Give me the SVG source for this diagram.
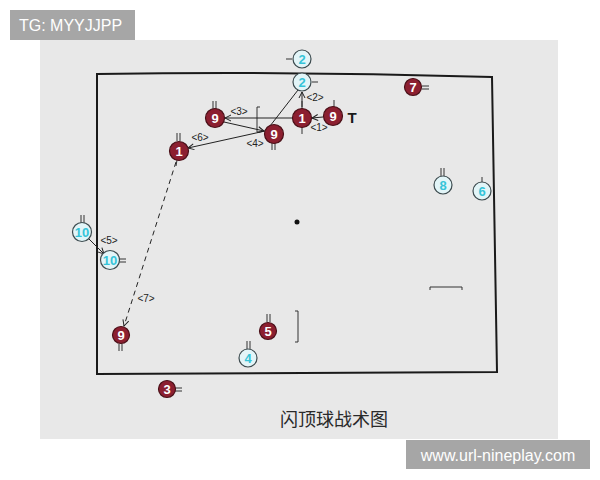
<svg xmlns="http://www.w3.org/2000/svg" width="600" height="480" viewBox="0 0 600 480">
<style>
.bg{fill:#e8e8e8}
.court{fill:none;stroke:#1a1a1a;stroke-width:2}
.red circle{fill:#8c1f30;stroke:#4a1018;stroke-width:1.2}
.red text{fill:#ffffff}
.cyan circle{fill:#e2f5f8;stroke:#3c4a4e;stroke-width:1.2}
.cyan text{fill:#35c4d8}
.num{font-family:"Liberation Sans",Arial,sans-serif;font-weight:bold;font-size:13px;text-anchor:middle;dominant-baseline:central}
.tick{stroke:#333;stroke-width:1;fill:none}
.conn line,.conn path{stroke:#222;stroke-width:1;fill:none}
.dash{stroke-dasharray:5 4}
.lbl{font-family:"Liberation Sans",Arial,sans-serif;font-size:10px;fill:#222;text-anchor:middle;dominant-baseline:central}
.wm{fill:#a6a6a6}
.wmt{font-family:"Liberation Sans",Arial,sans-serif;font-size:16px;fill:#ffffff;dominant-baseline:central}
</style>
<defs>
<marker id="ah" markerWidth="8" markerHeight="8" refX="7" refY="4" orient="auto" markerUnits="userSpaceOnUse">
<path d="M1,1 L7,4 L1,7" fill="none" stroke="#222" stroke-width="1"/>
</marker>
</defs>
<rect width="600" height="480" fill="#ffffff"/>
<rect class="bg" x="40" y="40" width="518" height="399"/>
<path class="court" d="M97,74 Q295,71 492,77 L497,372 L97,374 Z"/>
<circle cx="297" cy="222" r="2.5" fill="#111"/>
<path class="tick" d="M257,107 L257,132 M257,107 L260,107 M257,132 L260,132" stroke-width="1.3"/>
<path class="tick" d="M298,311 L298,342 M298,311 L295,311 M298,342 L295,342" stroke-width="1.3"/>
<path class="tick" d="M430,290 L430,287 L462,287 L462,290" stroke-width="1.5"/>
<g id="connectors" class="conn">
<line x1="323" y1="117" x2="312" y2="118" marker-end="url(#ah)"/>
<line x1="302" y1="107" x2="302" y2="92" marker-end="url(#ah)"/>
<line x1="292" y1="118" x2="225" y2="118" marker-end="url(#ah)"/>
<line x1="224" y1="122" x2="264" y2="131" marker-end="url(#ah)"/>
<line x1="270" y1="126" x2="298" y2="90"/>
<line x1="265" y1="131" x2="188" y2="148" marker-end="url(#ah)"/>
<line x1="87" y1="237" x2="104" y2="254" marker-end="url(#ah)"/>
<line class="dash" x1="176" y1="162" x2="124" y2="326" marker-end="url(#ah)"/>
<text class="lbl" x="319" y="127">&lt;1&gt;</text>
<text class="lbl" x="315" y="97">&lt;2&gt;</text>
<text class="lbl" x="239" y="111">&lt;3&gt;</text>
<text class="lbl" x="255" y="143">&lt;4&gt;</text>
<text class="lbl" x="109" y="240">&lt;5&gt;</text>
<text class="lbl" x="200" y="137">&lt;6&gt;</text>
<text class="lbl" x="146" y="298">&lt;7&gt;</text>
</g>
<g id="p2-out" class="cyan"><path class="tick" d="M286,59 L292,59"/><circle cx="302" cy="59" r="9"/><text class="num" x="302" y="59">2</text></g>
<g id="p2-line" class="cyan"><path class="tick" d="M312,82 L318,82"/><circle cx="302" cy="82" r="9"/><text class="num" x="302" y="82">2</text></g>
<g id="p1-top" class="red"><path class="tick" d="M302,101 L302,109 M302,127 L302,134"/><circle cx="302" cy="118" r="9.5"/><text class="num" x="302" y="118">1</text></g>
<g id="p9-right" class="red"><path class="tick" d="M334,100 L334,107"/><circle cx="333" cy="116" r="9.5"/><text class="num" x="333" y="116">9</text></g>
<text x="352" y="117" font-family="Liberation Sans,Arial,sans-serif" font-weight="bold" font-size="15" fill="#1a1a1a" text-anchor="middle" dominant-baseline="central">T</text>
<g id="p9-left" class="red"><path class="tick" d="M213,101 L213,109 M216,101 L216,109"/><circle cx="215" cy="118" r="9.5"/><text class="num" x="215" y="118">9</text></g>
<g id="p9-mid" class="red"><path class="tick" d="M272,143 L272,150 M275,143 L275,150"/><circle cx="274" cy="134" r="9.5"/><text class="num" x="274" y="134">9</text></g>
<g id="p1-left" class="red"><path class="tick" d="M177,133 L177,141 M180,133 L180,141 M177,160 L176,166"/><circle cx="179" cy="151" r="9.5"/><text class="num" x="179" y="151">1</text></g>
<g id="p7" class="red"><path class="tick" d="M422,86 L429,86 M422,89 L429,89"/><circle cx="413" cy="87" r="8.5"/><text class="num" x="413" y="87">7</text></g>
<g id="p8" class="cyan"><path class="tick" d="M441,168 L441,176 M444,168 L444,176"/><circle cx="443" cy="185" r="9"/><text class="num" x="443" y="185">8</text></g>
<g id="p6" class="cyan"><path class="tick" d="M482,177 L482,182"/><circle cx="482" cy="191" r="9"/><text class="num" x="482" y="191">6</text></g>
<g id="p10-out" class="cyan"><path class="tick" d="M81,215 L81,223 M84,215 L84,223"/><circle cx="82" cy="232" r="9.5"/><text class="num" x="82" y="232" font-size="11">10</text></g>
<g id="p10-in" class="cyan"><path class="tick" d="M119,259 L126,259 M119,262 L126,262"/><circle cx="110" cy="260" r="9.5"/><text class="num" x="110" y="260" font-size="11">10</text></g>
<g id="p9-bottom" class="red"><path class="tick" d="M119,344 L119,351 M122,344 L122,351"/><circle cx="121" cy="335" r="8.5"/><text class="num" x="121" y="335">9</text></g>
<g id="p5" class="red"><path class="tick" d="M267,314 L267,322 M270,314 L270,322"/><circle cx="268" cy="331" r="8.5"/><text class="num" x="268" y="331">5</text></g>
<g id="p4" class="cyan"><path class="tick" d="M247,341 L247,349 M250,341 L250,349"/><circle cx="248" cy="358" r="9"/><text class="num" x="248" y="358">4</text></g>
<g id="p3" class="red"><path class="tick" d="M175,388 L182,388 M175,391 L182,391"/><circle cx="167" cy="389" r="8.5"/><text class="num" x="167" y="389">3</text></g>
<text x="334" y="418" font-family="Noto Sans CJK SC,sans-serif" font-size="18" fill="#2a2a2a" text-anchor="middle" dominant-baseline="central">闪顶球战术图</text>
<rect class="wm" x="10" y="10" width="125" height="30"/>
<text class="wmt" x="19" y="25">TG: MYYJJPP</text>
<rect class="wm" x="406" y="440" width="184" height="29"/>
<text class="wmt" x="498" y="455" text-anchor="middle">www.url-nineplay.com</text>
</svg>
